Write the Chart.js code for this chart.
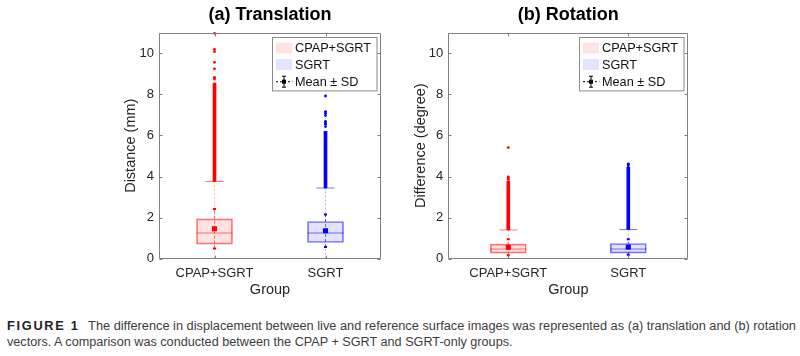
<!DOCTYPE html>
<html><head><meta charset="utf-8">
<script src="https://cdn.jsdelivr.net/npm/chart.js@4.4.0/dist/chart.umd.min.js"></script>
<style>
html,body{margin:0;padding:0;background:#fff;width:800px;height:356px;overflow:hidden;position:relative;}
.panel{position:absolute;top:0;width:400px;height:300px;}
#pa{left:0;} #pb{left:400px;}
.cap{position:absolute;left:7px;font-family:"Liberation Sans",Arial,sans-serif;font-size:12px;color:#3c3c3c;white-space:nowrap;transform-origin:0 50%;line-height:14px;}
.cap b{color:#222;letter-spacing:1.6px;margin-right:8px;}
</style></head><body>
<div class="panel" id="pa"><canvas id="ca" width="400" height="300"></canvas></div>
<div class="panel" id="pb"><canvas id="cb" width="400" height="300"></canvas></div>
<div class="cap" id="cap1" style="top:319px"><b>FIGURE 1</b>The difference in displacement between live and reference surface images was represented as (a) translation and (b) rotation</div>
<div class="cap" id="cap2" style="top:335px">vectors. A comparison was conducted between the CPAP + SGRT and SGRT-only groups.</div>
<script>
// ---------- DATA ----------
const groups = ['CPAP+SGRT', 'SGRT'];
const yTickValues = [0, 2, 4, 6, 8, 10];
const legendLabels = ['CPAP+SGRT', 'SGRT', 'Mean \u00b1 SD'];

// (a) Translation (mm)
const transQ1 = [0.71, 0.79];
const transMedian = [1.25, 1.25];
const transQ3 = [1.94, 1.81];
const transWhiskerLow = [0, 0];
const transWhiskerHigh = [3.76, 3.44];
const transMean = [1.46, 1.36];
const transSD = [0.96, 0.79];
const transDenseOutlierTop = [8.55, 6.2];
const transOutliersCPAP = [8.75, 8.83, 9.24, 9.56, 10.08, 10.19, 10.97];
const transOutliersSGRT = [6.43, 6.55, 6.62, 6.68, 6.97, 7.08, 7.16, 7.92];

// (b) Rotation (degree)
const rotQ1 = [0.27, 0.27];
const rotMedian = [0.47, 0.47];
const rotQ3 = [0.71, 0.74];
const rotWhiskerLow = [0, 0];
const rotWhiskerHigh = [1.40, 1.42];
const rotMean = [0.56, 0.57];
const rotSD = [0.39, 0.38];
const rotDenseOutlierTop = [3.78, 4.45];
const rotOutliersCPAP = [3.86, 3.93, 3.98, 5.41];
const rotOutliersSGRT = [4.52, 4.58, 4.62];

// ---------- STYLE ----------
const solid = ['#ff0000', '#0000ff'];
const edge = ['rgba(255,0,0,0.55)', 'rgba(0,0,255,0.55)'];
const faint = ['rgba(255,0,0,0.3)', 'rgba(0,0,255,0.3)'];
const fill = ['rgba(255,0,0,0.11)', 'rgba(0,0,255,0.11)'];
const FONT = '"Liberation Sans", Arial, sans-serif';
const INK = '#262626';
const AXIS = '#808080';

const framePlugin = {
  id: 'matlabFrame',
  afterDatasetsDraw(chart, args, o) {
    const {ctx, chartArea: a} = chart;
    // legend
    const w = 104.5, h = 53.4;
    const L = Math.round(a.right - 5 - w) + 0.5, T = Math.round(a.top + 4.6) + 0.5;
    ctx.save();
    ctx.fillStyle = '#fff';
    ctx.fillRect(L, T, w, h);
    ctx.strokeStyle = '#8a8a8a'; ctx.lineWidth = 1;
    ctx.strokeRect(L, T, w, h);
    const rows = [T + 10.5, T + 27, T + 44.2];
    ctx.font = '12.7px ' + FONT;
    ctx.textBaseline = 'middle';
    ctx.fillStyle = '#111';
    [0, 1].forEach(i => {
      ctx.fillStyle = fill[i];
      ctx.fillRect(L + 3.5, rows[i] - 5.5, 16, 11);
    });
    // mean ± SD symbol
    const cx = L + 11.5, cy = rows[2];
    ctx.strokeStyle = '#000'; ctx.lineWidth = 1;
    ctx.setLineDash([2, 2]);
    ctx.beginPath(); ctx.moveTo(L + 3.5, cy); ctx.lineTo(L + 20, cy); ctx.stroke();
    ctx.setLineDash([]);
    ctx.beginPath(); ctx.moveTo(cx, cy - 5.5); ctx.lineTo(cx, cy + 5.5);
    ctx.moveTo(cx - 2, cy - 5.5); ctx.lineTo(cx + 2, cy - 5.5);
    ctx.moveTo(cx - 2, cy + 5.5); ctx.lineTo(cx + 2, cy + 5.5); ctx.stroke();
    ctx.fillStyle = '#000'; ctx.fillRect(cx - 2, cy - 2, 4, 4);
    ctx.fillStyle = '#111';
    legendLabels.forEach((t, i) => ctx.fillText(t, L + 22.5, rows[i] + 0.5));
    ctx.restore();
  },
  afterDraw(chart) {
    const {ctx, chartArea: a, scales} = chart;
    ctx.save();
    ctx.strokeStyle = AXIS; ctx.lineWidth = 1;
    const L = Math.round(a.left) + 0.5, R = Math.round(a.right) - 0.5;
    const T = Math.round(a.top) + 0.5, B = Math.round(a.bottom) - 0.5;
    ctx.beginPath();
    ctx.rect(L, T, R - L, B - T);
    scales.y.ticks.forEach(t => {
      const p = Math.round(scales.y.getPixelForValue(t.value)) + 0.5;
      ctx.moveTo(L, p); ctx.lineTo(L + 3, p);
      ctx.moveTo(R, p); ctx.lineTo(R - 3, p);
    });
    scales.x.ticks.forEach(t => {
      const p = Math.round(scales.x.getPixelForValue(t.value)) + 0.5;
      ctx.moveTo(p, B); ctx.lineTo(p, B - 3);
      ctx.moveTo(p, T); ctx.lineTo(p, T + 3);
    });
    ctx.stroke();
    ctx.restore();
  }
};

function makeChart(id, s, title, yTitle, lay) {
  const xs = groups.map((g, i) => i + 1);
  const ds = [];
  ds.push({type: 'scatter', data: xs.map((x, i) => ({x, y: s.mean[i]})), pointStyle: 'rect', pointRadius: 3.6,
    pointBackgroundColor: solid, pointBorderWidth: 0, borderWidth: 0});
  xs.forEach((x, i) => ds.push({type: 'line', data: [{x, y: s.mean[i] - s.sd[i]}, {x, y: s.mean[i] + s.sd[i]}],
    borderColor: edge[i], borderWidth: 1, borderDash: [3, 2], pointStyle: 'line', pointRadius: 1.5,
    pointBorderColor: solid[i], pointBorderWidth: 2, fill: false}));
  xs.forEach((x, i) => ds.push({type: 'scatter', data: s.outliers[i].map(v => ({x, y: v})), pointStyle: 'circle',
    pointRadius: 1.4, pointBackgroundColor: solid[i], pointBorderWidth: 0, borderWidth: 0, clip: 4}));
  ds.push({type: 'bar', data: xs.map((x, i) => ({x, y: [s.whiskerHigh[i], s.denseTop[i]]})), barThickness: 3,
    backgroundColor: solid, borderWidth: 0, grouped: false});
  ds.push({type: 'scatter', data: xs.map((x, i) => ({x, y: s.median[i]})), pointStyle: 'line', pointRadius: 18,
    pointBorderColor: edge, pointBorderWidth: 1});
  ds.push({type: 'scatter', data: xs.map((x, i) => ({x, y: s.whiskerHigh[i]})).concat(xs.map((x, i) => ({x, y: s.whiskerLow[i]}))),
    pointStyle: 'line', pointRadius: 9, pointBorderColor: edge.concat(faint), pointBorderWidth: 1});
  xs.forEach((x, i) => ds.push({type: 'line', data: [{x, y: s.q3[i]}, {x, y: s.whiskerHigh[i]}, {x, y: null}, {x, y: s.whiskerLow[i]}, {x, y: s.q1[i]}],
    borderColor: faint[i], borderWidth: 1, borderDash: [2, 2], pointRadius: 0, spanGaps: false, fill: false}));
  ds.push({type: 'bar', data: xs.map((x, i) => ({x, y: [s.q1[i], s.q3[i]]})), barThickness: 36,
    backgroundColor: fill, borderColor: edge, borderWidth: 1, borderSkipped: false, grouped: false});

  return new Chart(document.getElementById(id), {
    type: 'bar',
    data: {datasets: ds},
    plugins: [framePlugin],
    options: {
      responsive: false, animation: false, events: [],
      layout: {padding: {left: 0, right: lay.padRight, top: 0, bottom: 0}},
      plugins: {
        legend: {display: false}, tooltip: {enabled: false},
        title: {display: true, text: title, fullSize: false, color: '#000',
          font: {family: FONT, size: 18, weight: 'bold'}, padding: {top: 4, bottom: 7.1}}
      },
      scales: {
        x: {type: 'linear', min: 0.5, max: 2.5, offset: false,
          grid: {display: false, drawTicks: false}, border: {display: false},
          afterBuildTicks: sc => { sc.ticks = xs.map(v => ({value: v})); },
          ticks: {autoSkip: false, maxRotation: 0, padding: 6.5, color: INK, font: {family: FONT, size: 13},
            callback: v => groups[v - 1]},
          title: {display: true, text: 'Group', color: INK, font: {family: FONT, size: 14.5}, padding: {top: 0, bottom: 1.8}},
          afterFit: sc => { sc.height = 41.3; }
        },
        y: {type: 'linear', min: 0, max: 11,
          grid: {display: false, drawTicks: false}, border: {display: false},
          afterBuildTicks: sc => { sc.ticks = yTickValues.map(v => ({value: v})); },
          ticks: {padding: 5, color: INK, font: {family: FONT, size: 13}},
          title: {display: true, text: yTitle, color: INK, font: {family: FONT, size: 14.5}, padding: {top: lay.yTitlePad, bottom: 0}},
          afterFit: sc => { sc.width = lay.yWidth; }
        }
      }
    }
  });
}

makeChart('ca', {q1: transQ1, median: transMedian, q3: transQ3, whiskerLow: transWhiskerLow, whiskerHigh: transWhiskerHigh,
  mean: transMean, sd: transSD, denseTop: transDenseOutlierTop, outliers: [transOutliersCPAP, transOutliersSGRT]},
  '(a) Translation', 'Distance (mm)', {padRight: 1, yWidth: 159, yTitlePad: 122.3});
makeChart('cb', {q1: rotQ1, median: rotMedian, q3: rotQ3, whiskerLow: rotWhiskerLow, whiskerHigh: rotWhiskerHigh,
  mean: rotMean, sd: rotSD, denseTop: rotDenseOutlierTop, outliers: [rotOutliersCPAP, rotOutliersSGRT]},
  '(b) Rotation', 'Difference (degree)', {padRight: 111.7, yWidth: 48.3, yTitlePad: 12.3});

// fit caption lines to the reference widths
[['cap1', 789], ['cap2', 505]].forEach(([id, w]) => {
  const el = document.getElementById(id);
  el.style.transform = 'scaleX(' + (w / el.offsetWidth) + ')';
});
</script>
</body></html>
